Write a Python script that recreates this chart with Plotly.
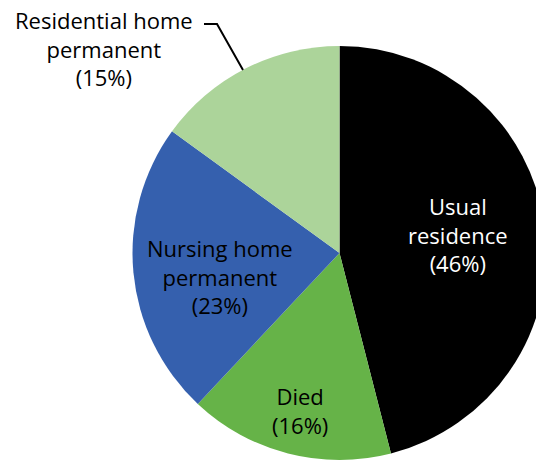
import plotly.graph_objects as go

# slice data, clockwise from 12 o'clock
labels = ["Usual<br>residence", "Died", "Nursing home<br>permanent", "Residential home<br>permanent"]
values = [46, 16, 23, 15]
colors = ["#000000", "#66B348", "#3560AE", "#ACD49A"]
text_colors = ["white", "black", "black", "black"]
# label centres in pixels (x, y from top)
label_pos = [(458, 234), (300, 410), (220, 276), (104, 48)]

W, H = 556, 461
FONT = "Open Sans"

fig = go.Figure()
fig.add_trace(go.Pie(
    labels=labels, values=values, sort=False, direction="clockwise", rotation=0,
    marker=dict(colors=colors, line=dict(width=0)),
    textinfo="none",
    domain=dict(x=[132.5 / W, 546.5 / W], y=[1 / H, (H - 46) / H]),
    showlegend=False, hoverinfo="label+percent",
))

for lab, val, col, (px, py) in zip(labels, values, text_colors, label_pos):
    fig.add_annotation(
        x=px / W, y=1 - py / H, xref="paper", yref="paper",
        xanchor="center", yanchor="middle",
        text=f"{lab}<br>({val}%)", showarrow=False,
        font=dict(family=FONT, size=22, color=col),
    )

# bent leader line for the small slice
fig.add_shape(
    type="path", xref="paper", yref="paper",
    path=f"M {204/W},{1-24/H} L {217/W},{1-24/H} L {243/W},{1-70/H}",
    line=dict(color="black", width=2),
)

fig.update_layout(
    width=W, height=H, margin=dict(l=0, r=0, t=0, b=0),
    paper_bgcolor="white", plot_bgcolor="white",
)
fig.write_html(
    "out.html",
    config={"displayModeBar": False},
    post_script="document.body.style.margin='0';document.body.style.overflow='hidden';",
)
